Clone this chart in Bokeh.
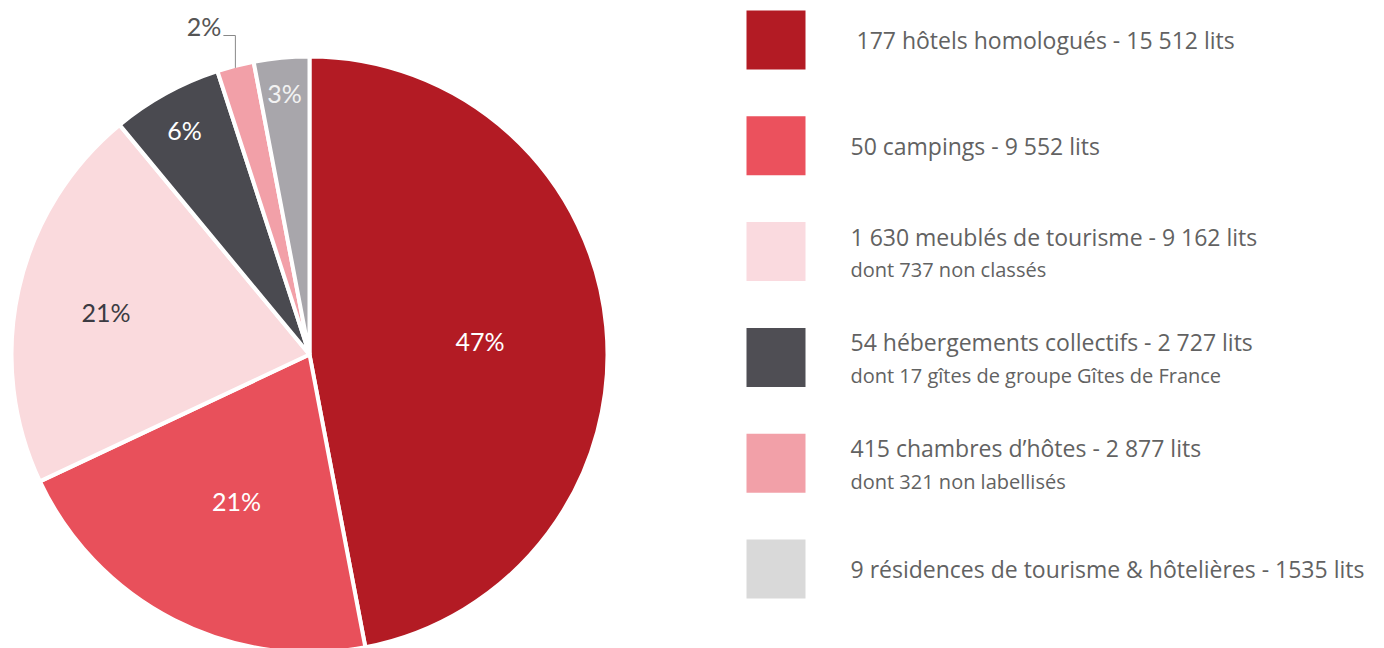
import math
from bokeh.plotting import figure
from bokeh.models import Range1d
from bokeh.core.properties import value
from bokeh.embed import file_html
from bokeh.resources import INLINE

# ---- data ----
percents = [47, 21, 21, 6, 2, 3]
pct_labels = ["47%", "21%", "21%", "6%", "2%", "3%"]
slice_colors = ["#B31B24", "#E8505B", "#FADADD", "#4A4A50", "#F2A0A8", "#A8A6AB"]
legend_colors = ["#B31B24", "#EB515D", "#FADADF", "#4F4E54", "#F2A0A8", "#D9D9D9"]
legend_main = [
    "\u00a0177 hôtels homologués - 15 512 lits",
    "50 campings - 9 552 lits",
    "1 630 meublés de tourisme - 9 162 lits",
    "54 hébergements collectifs - 2 727 lits",
    "415 chambres d\u2019hôtes - 2 877 lits",
    "9 résidences de tourisme & hôtelières - 1535 lits",
]
legend_sub = [
    "",
    "",
    "dont 737 non classés",
    "dont 17 gîtes de groupe Gîtes de France",
    "dont 321 non labellisés",
    "",
]

# ---- style ----
label_colors = ["white", "white", "#3B3B42", "white", "#555555", "#F2F2F2"]
label_rfrac = [0.575, 0.54, 0.70, 0.87, None, 0.89]

W, H = 1384, 648


def sx(x):  # screen x -> data x
    return x


def sy(y):  # screen y -> data y
    return H - y


p = figure(width=W, height=H, x_range=Range1d(0, W), y_range=Range1d(0, H),
           output_backend="svg", toolbar_location=None, min_border=0,
           x_axis_type=None, y_axis_type=None)
p.grid.visible = False
p.outline_line_color = None
p.background_fill_color = "white"
p.border_fill_color = "white"

cx, cy, R = sx(309), sy(354), 298

total = sum(percents)
cum = 0
starts, ends, mids = [], [], []
for v in percents:
    a0 = math.pi / 2 - 2 * math.pi * cum / total
    cum += v
    a1 = math.pi / 2 - 2 * math.pi * cum / total
    starts.append(a0)
    ends.append(a1)
    mids.append((a0 + a1) / 2)

p.wedge(x=cx, y=cy, radius=R, start_angle=starts, end_angle=ends,
        direction="clock", fill_color=slice_colors, line_color="white",
        line_width=4)

font = value("Lato")
for i, lab in enumerate(pct_labels):
    m = mids[i]
    if label_rfrac[i] is None:
        # outside label with leader line
        ex, ey = cx + R * math.cos(m), cy + R * math.sin(m)
        ty = sy(35)
        p.line([ex, ex, ex - 12], [ey - 2, ty, ty], line_color="#888888", line_width=1)
        p.text([ex - 14], [ty + 10], text=[lab], text_align="right",
               text_baseline="middle", text_font=font, text_font_size="25px",
               text_color=label_colors[i])
    else:
        r = R * label_rfrac[i]
        p.text([cx + r * math.cos(m)], [cy + r * math.sin(m) - 3], text=[lab],
               text_align="center", text_baseline="middle", text_font=font,
               text_font_size="25px", text_color=label_colors[i])

# legend
top0, step, sq = 10, 105.8, 59
for i in range(len(legend_main)):
    top = top0 + i * step
    ccy = top + sq / 2
    p.rect([sx(746 + sq / 2)], [sy(ccy)], width=sq, height=sq,
           fill_color=legend_colors[i], line_color=None)
    if legend_sub[i]:
        p.text([sx(850)], [sy(ccy - 15)], text=[legend_main[i]], text_align="left",
               text_baseline="middle", text_font=value("Open Sans"),
               text_font_size="23px", text_color="#626262")
        p.text([sx(850)], [sy(ccy + 18)], text=[legend_sub[i]], text_align="left",
               text_baseline="middle", text_font=value("Open Sans"),
               text_font_size="20px", text_color="#626262")
    else:
        p.text([sx(850)], [sy(ccy)], text=[legend_main[i]], text_align="left",
               text_baseline="middle", text_font=value("Open Sans"),
               text_font_size="23px", text_color="#626262")

open("out.html", "w").write(file_html(p, INLINE))
